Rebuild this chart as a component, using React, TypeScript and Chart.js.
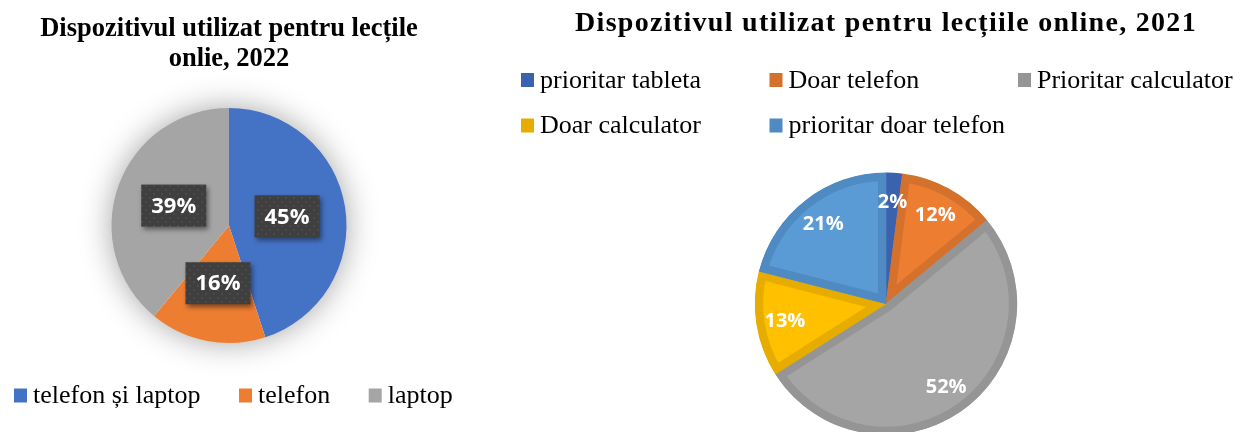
import React, { useEffect, useRef } from 'react';
import { Chart, registerables } from 'chart.js';

Chart.register(...registerables);

// ---------- data ----------
const leftTitle = ['Dispozitivul utilizat pentru lecțile', 'onlie, 2022'];
const leftLabels = ['telefon și laptop', 'telefon', 'laptop'];
const leftValues = [45, 16, 39];
const leftColors = ['#4472C4', '#ED7D31', '#A5A5A5'];

const rightTitle = 'Dispozitivul utilizat pentru lecțiile online, 2021';
const rightLabels = ['prioritar tableta', 'Doar telefon', 'Prioritar calculator', 'Doar calculator', 'prioritar doar telefon'];
const rightValues = [2, 12, 52, 13, 21];
const rightFill = ['#4472C4', '#ED7D31', '#A5A5A5', '#FFC000', '#5B9BD5'];
const rightBorder = ['#3A62AE', '#D4712D', '#959595', '#E6AC00', '#4F8AC2'];

// ---------- styles ----------
const SERIF = "'Liberation Serif', 'Times New Roman', serif";
const SANS = "'Open Sans', 'Noto Sans', sans-serif";

function makeDotPattern(ctx: CanvasRenderingContext2D) {
  const c = document.createElement('canvas');
  c.width = 8;
  c.height = 8;
  const p = c.getContext('2d')!;
  p.fillStyle = '#3f3f3f';
  p.fillRect(0, 0, 8, 8);
  p.fillStyle = '#4b4b4b';
  p.fillRect(1, 1, 2, 2);
  p.fillRect(5, 5, 2, 2);
  return ctx.createPattern(c, 'repeat');
}

// soft glow behind the left pie
const glowPlugin = {
  id: 'glow',
  beforeDatasetsDraw(chart: any) {
    const arc = chart.getDatasetMeta(0).data[0];
    if (!arc) return;
    const { x, y, outerRadius } = arc.getProps(['x', 'y', 'outerRadius']);
    const ctx = chart.ctx;
    ctx.save();
    ctx.shadowColor = 'rgba(0,0,0,0.38)';
    ctx.shadowBlur = 32;
    ctx.fillStyle = '#ffffff';
    ctx.beginPath();
    ctx.arc(x, y, outerRadius - 1, 0, Math.PI * 2);
    ctx.fill();
    ctx.restore();
  },
};

// dark boxed labels on the left pie
const boxLabelPlugin = {
  id: 'boxLabels',
  afterDatasetsDraw(chart: any) {
    const ctx = chart.ctx;
    const meta = chart.getDatasetMeta(0);
    const values = chart.data.datasets[0].data;
    const pattern = makeDotPattern(ctx);
    ctx.save();
    ctx.letterSpacing = '0px';
    ctx.font = `bold 22px ${SANS}`;
    meta.data.forEach((arc: any, i: number) => {
      const { x, y } = arc.tooltipPosition(false);
      const text = values[i] + '%';
      const w = ctx.measureText(text).width + 20;
      const h = 42;
      ctx.save();
      ctx.shadowColor = 'rgba(0,0,0,0.45)';
      ctx.shadowBlur = 5;
      ctx.shadowOffsetX = 2;
      ctx.shadowOffsetY = 3;
      ctx.fillStyle = pattern;
      ctx.fillRect(x - w / 2, y - h / 2, w, h);
      ctx.restore();
      ctx.fillStyle = '#ffffff';
      ctx.textAlign = 'center';
      ctx.textBaseline = 'middle';
      ctx.fillText(text, x, y + 1);
    });
    ctx.restore();
  },
};

// white labels on the right pie
const outerLabelPlugin = {
  id: 'outerLabels',
  beforeDatasetsDraw(chart: any) {
    chart.ctx.letterSpacing = '0px';
  },
  afterDatasetsDraw(chart: any) {
    const ctx = chart.ctx;
    const meta = chart.getDatasetMeta(0);
    const values = chart.data.datasets[0].data;
    ctx.save();
    ctx.letterSpacing = '0px';
    ctx.font = `bold 20px ${SANS}`;
    ctx.fillStyle = '#ffffff';
    ctx.textAlign = 'center';
    ctx.textBaseline = 'middle';
    meta.data.forEach((arc: any, i: number) => {
      const { x, y, startAngle, endAngle, outerRadius } = arc.getProps(['x', 'y', 'startAngle', 'endAngle', 'outerRadius']);
      const mid = (startAngle + endAngle) / 2;
      const r = outerRadius * 0.78;
      ctx.fillText(values[i] + '%', x + Math.cos(mid) * r, y + Math.sin(mid) * r + 1);
    });
    ctx.restore();
  },
};

const titleSpacingPlugin = {
  id: 'titleSpacing',
  beforeDraw(chart: any) {
    chart.ctx.letterSpacing = '1.3px';
  },
};

type LegendLayout = {
  mode: 'flow' | 'grid';
  startX: number;
  baseline: number;
  gap?: number;
  colWidth?: number;
  cols?: number;
  rowHeight?: number;
};

function makeLegendPlugin(labels: string[], colors: string[], layout: LegendLayout) {
  return {
    id: 'customLegend',
    afterDraw(chart: any) {
      const ctx = chart.ctx;
      ctx.save();
      ctx.letterSpacing = '0px';
      ctx.font = `26px ${SERIF}`;
      ctx.textAlign = 'left';
      ctx.textBaseline = 'alphabetic';
      const markerW = 13;
      const markerH = 14;
      const textGap = 6;
      let x = layout.startX;
      labels.forEach((label, i) => {
        let mx = x;
        let base = layout.baseline;
        if (layout.mode === 'grid') {
          const cols = layout.cols || 3;
          mx = layout.startX + (i % cols) * (layout.colWidth || 250);
          base = layout.baseline + Math.floor(i / cols) * (layout.rowHeight || 45);
        }
        ctx.fillStyle = colors[i];
        ctx.fillRect(mx, base - markerH - 0.5, markerW, markerH);
        ctx.fillStyle = '#000000';
        const tx = mx + markerW + textGap;
        ctx.fillText(label, tx, base);
        x = tx + ctx.measureText(label).width + (layout.gap || 35);
      });
      ctx.restore();
    },
  };
}

export default function App() {
  const leftRef = useRef<HTMLCanvasElement>(null);
  const rightRef = useRef<HTMLCanvasElement>(null);

  useEffect(() => {
    const left = new Chart(leftRef.current!, {
      type: 'pie',
      data: {
        labels: leftLabels,
        datasets: [
          {
            data: leftValues,
            backgroundColor: leftColors,
            borderWidth: 0,
            hoverBorderWidth: 0,
            hoverOffset: 0,
          } as any,
        ],
      },
      options: {
        responsive: false,
        animation: false,
        devicePixelRatio: 1,
        events: [],
        layout: { padding: { top: 0, bottom: 89, left: 0, right: 2 } },
        plugins: {
          legend: { display: false },
          tooltip: { enabled: false },
          title: {
            display: true,
            text: leftTitle,
            color: '#000000',
            font: { family: SERIF, size: 26.5, weight: 'bold', lineHeight: 30 / 26.5 },
            padding: { top: 14, bottom: 34 },
          },
        },
      } as any,
      plugins: [
        glowPlugin,
        boxLabelPlugin,
        makeLegendPlugin(leftLabels, leftColors, { mode: 'flow', startX: 14, baseline: 403, gap: 38.5 }),
      ],
    });

    const right = new Chart(rightRef.current!, {
      type: 'pie',
      data: {
        labels: rightLabels,
        datasets: [
          {
            data: rightValues,
            backgroundColor: rightFill,
            borderColor: rightBorder,
            borderWidth: 8,
            hoverBorderWidth: 8,
            borderAlign: 'inner',
            hoverOffset: 0,
          } as any,
        ],
      },
      options: {
        responsive: false,
        animation: false,
        devicePixelRatio: 1,
        events: [],
        layout: { padding: { top: 0, bottom: 1, left: 72, right: 0 } },
        plugins: {
          legend: { display: false },
          tooltip: { enabled: false },
          title: {
            display: true,
            text: rightTitle,
            color: '#000000',
            font: { family: SERIF, size: 28, weight: 'bold', lineHeight: 1.2 },
            padding: { top: 7, bottom: 132 },
          },
        },
      } as any,
      plugins: [
        titleSpacingPlugin,
        outerLabelPlugin,
        makeLegendPlugin(rightLabels, rightBorder, {
          mode: 'grid',
          startX: 61,
          baseline: 87.5,
          colWidth: 248.5,
          cols: 3,
          rowHeight: 45.5,
        }),
      ],
    });

    return () => {
      left.destroy();
      right.destroy();
    };
  }, []);

  return (
    <div
      style={{
        position: 'fixed',
        left: 0,
        top: 0,
        width: 1240,
        height: 432,
        overflow: 'hidden',
        background: '#ffffff',
      }}
    >
      <canvas
        ref={leftRef}
        width={460}
        height={432}
        style={{ position: 'absolute', left: 0, top: 0, width: 460, height: 432 }}
      />
      <canvas
        ref={rightRef}
        width={780}
        height={436}
        style={{ position: 'absolute', left: 460, top: 0, width: 780, height: 436 }}
      />
    </div>
  );
}
